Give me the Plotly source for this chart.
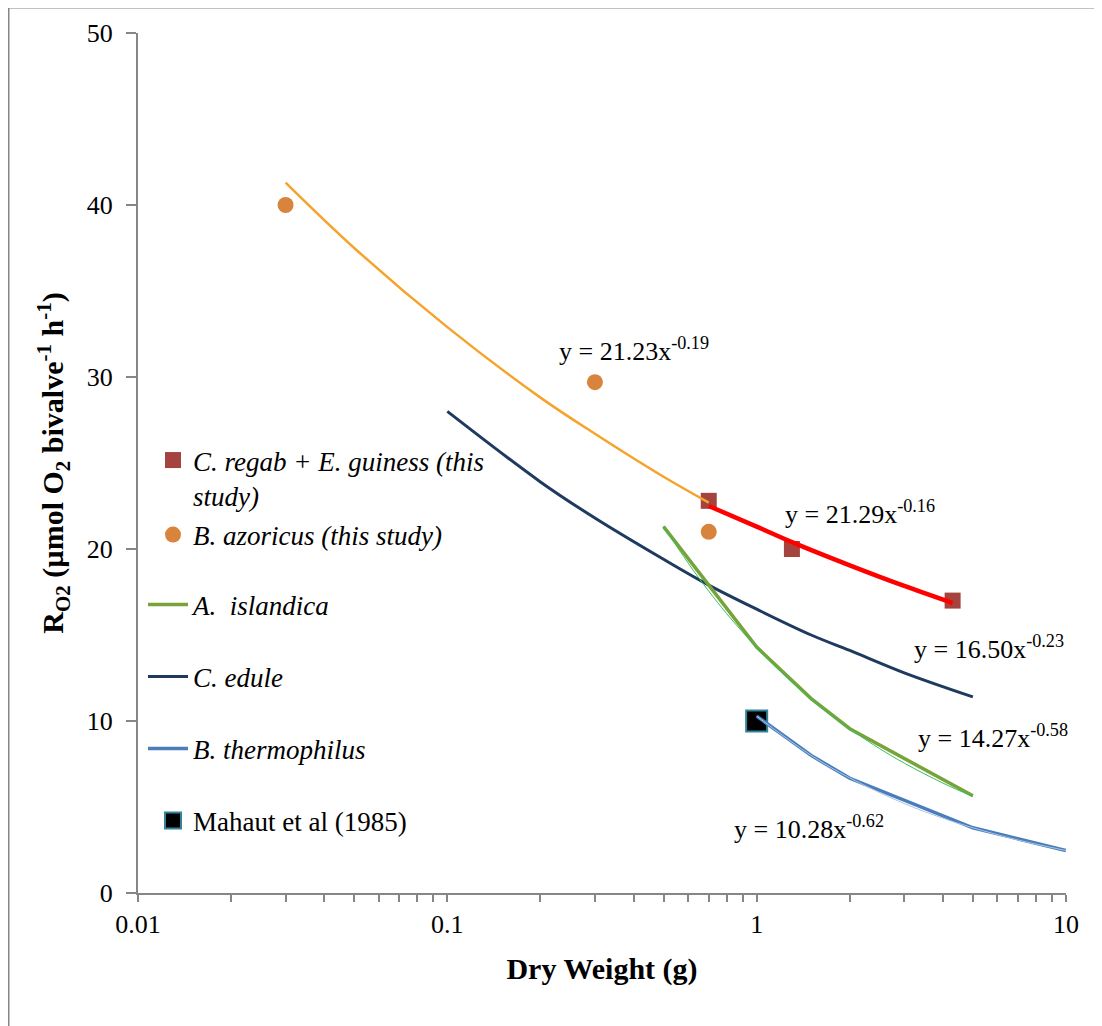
import numpy as np
import plotly.graph_objects as go

# ---------------- data ----------------
regab_x = [0.70, 1.30, 4.30]
regab_y = [22.8, 20.0, 17.0]

azoricus_x = [0.03, 0.30, 0.70]
azoricus_y = [40.0, 29.7, 21.0]

mahaut_x = [1.0]
mahaut_y = [10.0]

# fitted curves
azo_fit_x = [0.03, 0.05, 0.1, 0.2, 0.3, 0.5, 0.7]
azo_fit_y = [41.3, 37.5, 32.9, 28.8, 26.7, 24.2, 22.7]

regab_fit_x = [0.70, 1.0, 1.30, 2.0, 3.0, 4.30]
regab_fit_y = [22.5, 21.3, 20.4, 19.05, 17.85, 16.86]

edule_x = [0.1, 0.2, 0.3, 0.5, 0.7, 1.0, 1.5, 2.0, 3.0, 5.0]
edule_y = [28.0, 23.9, 21.8, 19.4, 17.9, 16.5, 15.0, 14.1, 12.8, 11.4]

islandica_x = [0.5, 1.0, 1.5, 2.0, 5.0]
islandica_y = [21.3, 14.3, 11.3, 9.55, 5.65]
islandica_fit_x = [0.5, 0.6, 0.7, 0.8, 1.0, 1.2, 1.5, 2.0, 2.5, 3.0, 4.0, 5.0]
islandica_fit_y = [21.33, 19.19, 17.55, 16.24, 14.27, 12.84, 11.27, 9.55, 8.39, 7.55, 6.39, 5.61]

thermo_x = [1.0, 1.5, 2.0, 5.0, 10.0]
thermo_y = [10.28, 8.0, 6.67, 3.79, 2.47]
thermo_fit_x = [1.0, 1.5, 2.0, 3.0, 4.0, 5.0, 7.0, 10.0]
thermo_fit_y = [10.28, 8.0, 6.69, 5.20, 4.35, 3.79, 3.08, 2.47]

equations = [
    ("y = 21.23x<sup>-0.19</sup>", 0.2254, 31.6),
    ("y = 21.29x<sup>-0.16</sup>", 1.213, 22.1),
    ("y = 16.50x<sup>-0.23</sup>", 3.177, 14.3),
    ("y = 14.27x<sup>-0.58</sup>", 3.273, 9.1),
    ("y = 10.28x<sup>-0.62</sup>", 0.830, 3.8),
]

FONT = "Liberation Serif"
GRAY = "#868686"

fig = go.Figure()

# markers (drawn first, lines on top)
fig.add_trace(go.Scatter(
    x=regab_x, y=regab_y, mode="markers",
    name="<i>C. regab + E. guiness (this<br>study)</i>",
    marker=dict(symbol="square", size=16, color="#A5443F"),
    legend="legend"))
fig.add_trace(go.Scatter(
    x=azoricus_x, y=azoricus_y, mode="markers",
    name="<i>B. azoricus (this study)</i>",
    marker=dict(symbol="circle", size=16, color="#D9843C"),
    legend="legend2"))
fig.add_trace(go.Scatter(
    x=mahaut_x, y=mahaut_y, mode="markers",
    name="Mahaut et al (1985)",
    marker=dict(symbol="square", size=21, color="black",
                line=dict(color="#31849B", width=2)),
    legend="legend6"))

# lines
fig.add_trace(go.Scatter(
    x=azo_fit_x, y=azo_fit_y, mode="lines", line_shape="spline",
    line=dict(color="#F6A32C", width=2.5), showlegend=False, hoverinfo="skip"))
fig.add_trace(go.Scatter(
    x=regab_fit_x, y=regab_fit_y, mode="lines", line_shape="spline",
    line=dict(color="#FF0000", width=4.5), showlegend=False, hoverinfo="skip"))
fig.add_trace(go.Scatter(
    x=edule_x, y=edule_y, mode="lines", line_shape="spline",
    name="<i>C. edule</i>",
    line=dict(color="#1F3A5F", width=3), legend="legend4"))
fig.add_trace(go.Scatter(
    x=islandica_x, y=islandica_y, mode="lines",
    name="<i>A.  islandica</i>",
    line=dict(color="#77A33A", width=3.5), legend="legend3"))
fig.add_trace(go.Scatter(
    x=islandica_fit_x, y=islandica_fit_y, mode="lines", line_shape="spline",
    line=dict(color="#2FC25B", width=1), showlegend=False, hoverinfo="skip"))
fig.add_trace(go.Scatter(
    x=thermo_x, y=thermo_y, mode="lines",
    name="<i>B. thermophilus</i>",
    line=dict(color="#4A7EBB", width=3.5), legend="legend5"))
fig.add_trace(go.Scatter(
    x=thermo_fit_x, y=thermo_fit_y, mode="lines", line_shape="spline",
    line=dict(color="#A9C4E8", width=1), showlegend=False, hoverinfo="skip"))

for text, ex, ey in equations:
    fig.add_annotation(x=np.log10(ex), y=ey, text=text, showarrow=False,
                       xanchor="left", yanchor="middle",
                       font=dict(family=FONT, size=26, color="black"))

# page has an 8px body margin; figure placed at (8, 8)
OFF = 8
W, H = 1102 - OFF, 1026 - OFF
PL, PR, PT, PB = 138, 1066, 33, 893   # plot area in page pixels
L, T = PL - OFF, PT - OFF
R = W - (PR - OFF)
B = H - (PB - OFF)
pw, ph = PR - PL, PB - PT

def px2paper_x(px):
    return (px - PL) / pw

def py2paper_y(py):
    return (PB - py) / ph

legend_font = dict(family=FONT, size=27, color="black")
def leg(xpx, ypx, itemwidth=30, valign="middle"):
    return dict(x=px2paper_x(xpx), y=py2paper_y(ypx), xanchor="left", yanchor="middle",
                font=legend_font, bgcolor="rgba(0,0,0,0)", itemwidth=itemwidth,
                valign=valign, borderwidth=0)

fig.update_layout(
    width=W, height=H,
    margin=dict(l=L, r=R, t=T, b=B),
    paper_bgcolor="white", plot_bgcolor="white",
    font=dict(family=FONT, size=26, color="black"),
    legend=leg(153, 478, valign="top"),
    legend2=leg(153, 535),
    legend3=leg(143, 605, itemwidth=40),
    legend4=leg(143, 677, itemwidth=40),
    legend5=leg(143, 749, itemwidth=40),
    legend6=leg(153, 821),
    xaxis=dict(type="log", range=[-2, 1], dtick=1,
               showline=True, linecolor=GRAY, linewidth=2,
               ticks="outside", ticklen=7, tickcolor=GRAY, tickwidth=1.5,
               minor=dict(ticks="outside", ticklen=7, tickcolor=GRAY, tickwidth=1.5, showgrid=False),
               showgrid=False, zeroline=False,
               tickfont=dict(family=FONT, size=26, color="black"),
               title=dict(text="<b>Dry Weight (g)</b>", standoff=20,
                          font=dict(family=FONT, size=30, color="black"))),
    yaxis=dict(range=[0, 50], dtick=10,
               showline=True, linecolor=GRAY, linewidth=2,
               ticks="outside", ticklen=10, tickcolor=GRAY, tickwidth=1.5,
               ticklabelstandoff=8,
               showgrid=False, zeroline=False,
               tickfont=dict(family=FONT, size=26, color="black"),
               title=dict(text="<b>R<sub>O2</sub> (µmol O<sub>2</sub> bivalve<sup>-1</sup> h<sup>-1</sup>)</b>",
                          standoff=14,
                          font=dict(family=FONT, size=30, color="black"))),
)

# outer frame of the chart area
fig.add_shape(type="rect", xref="paper", yref="paper",
              x0=px2paper_x(8.5), x1=px2paper_x(1120),
              y0=py2paper_y(1040), y1=py2paper_y(7.5),
              line=dict(color=GRAY, width=2), layer="below")

fig.write_html("out.html")
